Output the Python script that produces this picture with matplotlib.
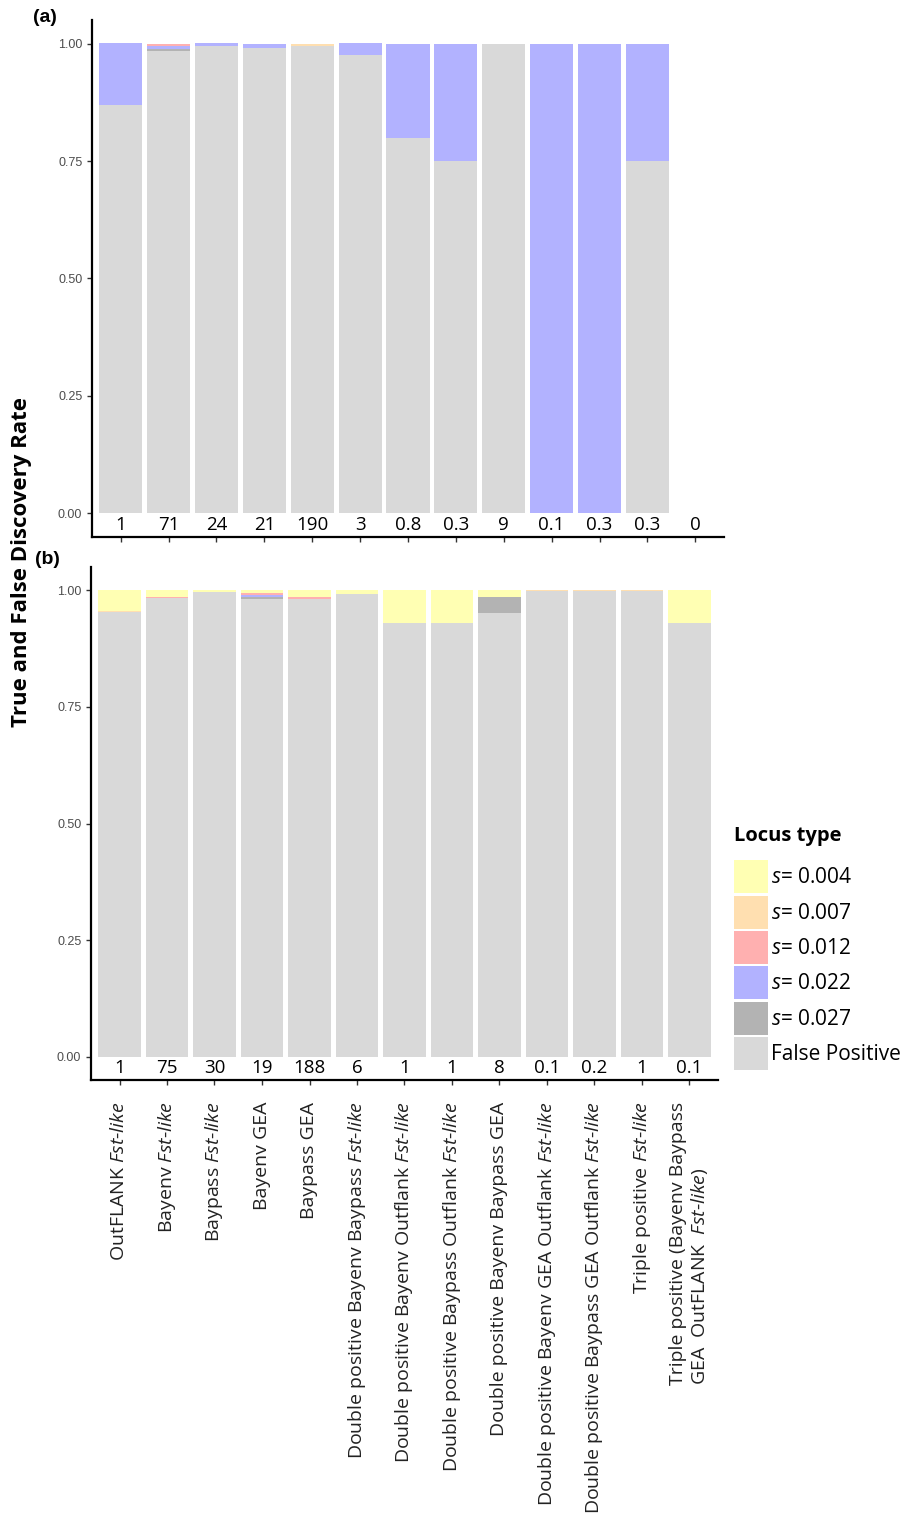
import matplotlib
matplotlib.use('Agg')
import matplotlib.pyplot as plt
import numpy as np
from matplotlib.patches import Patch

plt.rcParams['font.family'] = ['Open Sans', 'DejaVu Sans']
plt.rcParams['mathtext.fontset'] = 'custom'
plt.rcParams['mathtext.rm'] = 'Open Sans'
plt.rcParams['mathtext.it'] = 'Open Sans:italic'

# ---- data ----
methods = [
    r"OutFLANK $\mathit{Fst}$-$\mathit{like}$",
    r"Bayenv $\mathit{Fst}$-$\mathit{like}$",
    r"Baypass $\mathit{Fst}$-$\mathit{like}$",
    "Bayenv GEA",
    "Baypass GEA",
    r"Double positive Bayenv Baypass $\mathit{Fst}$-$\mathit{like}$",
    r"Double positive Bayenv Outflank $\mathit{Fst}$-$\mathit{like}$",
    r"Double positive Baypass Outflank $\mathit{Fst}$-$\mathit{like}$",
    "Double positive Bayenv Baypass GEA",
    r"Double positive Bayenv GEA Outflank $\mathit{Fst}$-$\mathit{like}$",
    r"Double positive Baypass GEA Outflank $\mathit{Fst}$-$\mathit{like}$",
    r"Triple positive $\mathit{Fst}$-$\mathit{like}$",
    "Triple positive (Bayenv Baypass\n" + r"GEA  OutFLANK  $\mathit{Fst}$-$\mathit{like)}$",
]

locus_types = ["s= 0.004", "s= 0.007", "s= 0.012", "s= 0.022", "s= 0.027", "False Positive"]
locus_colors = ['#FFFFB3', '#FFDFB0', '#FFB0B0', '#B2B2FF', '#B3B3B3', '#D9D9D9']

# panel (a)
fp_a   = [0.870, 0.985, 0.995, 0.990, 0.995, 0.975, 0.800, 0.750, 0.999, 0.000, 0.000, 0.750, 0.0]
s027_a = [0.000, 0.003, 0.000, 0.000, 0.000, 0.000, 0.000, 0.000, 0.000, 0.000, 0.000, 0.000, 0.0]
s022_a = [0.130, 0.007, 0.005, 0.010, 0.000, 0.025, 0.200, 0.250, 0.000, 1.000, 1.000, 0.250, 0.0]
s012_a = [0.000, 0.003, 0.000, 0.000, 0.000, 0.000, 0.000, 0.000, 0.000, 0.000, 0.000, 0.000, 0.0]
s007_a = [0.000, 0.002, 0.000, 0.000, 0.003, 0.000, 0.000, 0.000, 0.001, 0.000, 0.000, 0.000, 0.0]
s004_a = [0.000, 0.000, 0.000, 0.000, 0.002, 0.000, 0.000, 0.000, 0.000, 0.000, 0.000, 0.000, 0.0]
counts_a = ['1', '71', '24', '21', '190', '3', '0.8', '0.3', '9', '0.1', '0.3', '0.3', '0']

# panel (b)
fp_b   = [0.953, 0.983, 0.997, 0.982, 0.982, 0.993, 0.930, 0.930, 0.952, 0.999, 0.999, 0.999, 0.930]
s027_b = [0.000, 0.000, 0.000, 0.003, 0.000, 0.000, 0.000, 0.000, 0.033, 0.000, 0.000, 0.000, 0.000]
s022_b = [0.000, 0.000, 0.000, 0.004, 0.000, 0.000, 0.000, 0.000, 0.000, 0.000, 0.000, 0.000, 0.000]
s012_b = [0.000, 0.003, 0.000, 0.005, 0.003, 0.000, 0.000, 0.000, 0.000, 0.000, 0.000, 0.000, 0.000]
s007_b = [0.002, 0.000, 0.000, 0.001, 0.000, 0.000, 0.000, 0.000, 0.000, 0.001, 0.001, 0.001, 0.000]
s004_b = [0.045, 0.014, 0.003, 0.005, 0.015, 0.007, 0.070, 0.070, 0.015, 0.000, 0.000, 0.000, 0.070]
counts_b = ['1', '75', '30', '19', '188', '6', '1', '1', '8', '0.1', '0.2', '1', '0.1']


def draw_panel(ax, stacks, counts):
    x = np.arange(1, len(methods) + 1)
    bottom = np.zeros(len(x))
    # stack from bottom: False Positive first, then s=0.027 ... s=0.004 on top
    for vals, col in zip(stacks, locus_colors[::-1]):
        vals = np.array(vals)
        ax.bar(x, vals, width=0.9, bottom=bottom, color=col, linewidth=0)
        bottom += vals
    for xi, c in zip(x, counts):
        ax.text(xi, -0.025, c, ha='center', va='center', fontsize=13.5, color='black')
    ax.set_xlim(0.4, len(x) + 0.6)
    ax.set_ylim(-0.05, 1.05)
    ax.set_yticks([0, 0.25, 0.5, 0.75, 1.0])
    ax.set_yticklabels(['0.00', '0.25', '0.50', '0.75', '1.00'],
                       family='Liberation Sans', fontsize=9, color='#4D4D4D')
    ax.set_xticks(x)
    for s in ['top', 'right']:
        ax.spines[s].set_visible(False)
    for s in ['left', 'bottom']:
        ax.spines[s].set_linewidth(1.6)
        ax.spines[s].set_color('black')
    ax.tick_params(axis='both', length=3.5, width=1, color='#333333')
    return x


fig = plt.figure(figsize=(9.14, 15.2), dpi=100)
H, W = 1520.0, 914.0
ax_a = fig.add_axes([92 / W, 1 - 537 / H, (724 - 92) / W, (537 - 20) / H])
ax_b = fig.add_axes([91 / W, 1 - 1080 / H, (718 - 91) / W, (1080 - 567) / H])

draw_panel(ax_a, [fp_a, s027_a, s022_a, s012_a, s007_a, s004_a], counts_a)
draw_panel(ax_b, [fp_b, s027_b, s022_b, s012_b, s007_b, s004_b], counts_b)

ax_a.set_xticklabels([])
ax_b.set_xticklabels(methods, rotation=90, ha='center', va='top',
                     multialignment='left', fontsize=14, color='#222222',
                     linespacing=1.1)
ax_b.tick_params(axis='x', pad=12)

fig.text(33 / W, 1 - 18 / H, '(a)', family='Liberation Sans', fontweight='bold',
         fontsize=14, ha='left', va='center')
fig.text(35 / W, 1 - 560 / H, '(b)', family='Liberation Sans', fontweight='bold',
         fontsize=14, ha='left', va='center')
fig.text(22 / W, 1 - 562 / H, 'True and False Discovery Rate', rotation=90,
         fontweight='bold', fontsize=16, ha='center', va='center')

handles = [Patch(facecolor=c, edgecolor='none') for c in locus_colors]
leg_labels = [r"$\mathit{s}$" + t[1:] if t.startswith('s') else t for t in locus_types]
leg = fig.legend(handles, leg_labels, loc='upper left',
                 bbox_to_anchor=(724 / W, 1 - 816 / H), frameon=False,
                 fontsize=15, title='Locus type',
                 title_fontproperties={'weight': 'bold', 'size': 14.5, 'family': 'Open Sans'},
                 handlelength=1.6, handleheight=2.05, labelspacing=0.12,
                 handletextpad=0.15, borderaxespad=0, borderpad=0.5)
leg._legend_box.align = 'left'
leg._legend_box.sep = 10

fig.savefig('out.png', dpi=100)
